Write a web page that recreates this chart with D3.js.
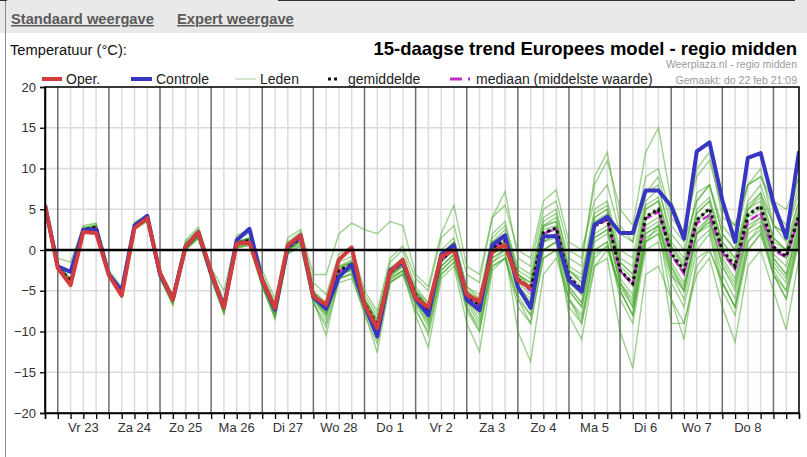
<!DOCTYPE html>
<html>
<head>
<meta charset="utf-8">
<script src="https://cdn.jsdelivr.net/npm/d3@7"></script>
<style>
  body { margin: 0; background: #fff; }
  text { font-family: Arial, "Liberation Sans", sans-serif; }
</style>
</head>
<body>
<div id="chart"></div>
<script>
// 6-hourly points, first one at do 22 feb 18:00 (2018, no leap day)
const startTime = new Date(2018, 1, 22, 18);
const endTime = new Date(2018, 2, 9, 12);

const dayLabels = ["Vr 23", "Za 24", "Zo 25", "Ma 26", "Di 27", "Wo 28", "Do 1",
                   "Vr 2", "Za 3", "Zo 4", "Ma 5", "Di 6", "Wo 7", "Do 8"];
const yTicks = [-20, -15, -10, -5, 0, 5, 10, 15, 20];

const oper = [5.5, -2.2,-4.3,2.2,2.1, -3.1,-5.6,2.7,3.9, -2.8,-6.1,0.4,2.2, -2.7,-7.1,0.8,0.9,
  -3.7,-7.1,0.6,1.8, -5.7,-6.7,-1.2,0.3, -6.7,-9.6,-2.7,-1.2, -5.9,-7,-0.8,0,
  -5.5,-6.3,-0.2,0.6, -3.7,-4.7];

const controle = [5.5, -2,-2.7,2.5,2.5, -3,-5,3,4.2, -3,-6,0.4,2.2, -2.8,-7,1.2,2.6,
  -3.7,-7.3,0.4,1.8, -5.8,-7.2,-3.3,-1.8, -6.7,-10.6,-2.5,-1.5, -6,-8,-0.6,0.6,
  -6.1,-7.4,0.6,1.8, -4.5,-7.1,1.7,1.7, -3.7,-5.1,3.1,4.1, 2.1,2.1,7.3,7.3,
  5.4,1.4,12.1,13.2, 6.1,1,11.3,11.9, 5.8,1.5,12.1];

const gemiddelde = [5.5, -2,-3.8,2.5,2.8, -3,-5.2,3,4, -3,-6,0.5,2, -3,-7,0.8,1.2,
  -3.8,-7.3,0.3,1.5, -5.5,-7,-2.5,-1.8, -6.5,-9.2,-2.8,-1.5, -5.5,-7.4,-1.2,0.2,
  -5.5,-6.8,0.2,1.2, -3.5,-4.8,2.1,2.7, -3.3,-4.9,3,3.8, -2.5,-4.1,4.1,5,
  -0.4,-2.5,3.7,5.1, 0,-2,4.3,5.4, 0.4,-0.8,4.3];

const mediaan = [5.5, -2.1,-3.9,2.4,2.7, -3,-5.3,3,3.9, -3,-6,0.5,1.9, -3,-7,0.8,1.2,
  -3.8,-7.3,0.3,1.4, -5.6,-7.1,-2.6,-1.9, -6.6,-9.3,-2.9,-1.5, -5.6,-7.5,-1.3,0.2,
  -5.6,-7,0.2,1.2, -3.6,-5,2,2.6, -3.4,-5,2.9,3.7, -2.6,-4.2,3.8,4.7,
  -0.6,-2.9,3.3,4.3, -0.3,-2.3,3.5,4.5, 0,-0.9,4];

// ensemble members (Leden), read off roughly
const leden = [
  [5.6, -1.8,-3.5,2.8,3.2, -2.8,-5,3.4,4.3, -2.6,-5.6,1,2.5, -2.5,-6.2,1.5,2, -3,-6.5,1,2.2, -4,-5.5,-0.5,0.5, -5,-7.5,-1,0.5, -3.5,-5,1.5,3, -3,-4,4,7.2, -1,-2,5,6, 0,-1,8,11, 5,3,12,15, 6,2,9,11, 5,3,8,9, 6,5,9],
  [5.4, -1,-1.5,3,3.3, -2.5,-4.5,3.3,4.2, -2.5,-5.5,1.2,2.8, -2.2,-5,1.8,2.5, -2.5,-6,1.5,2.5, -3,-3,2,3.3, 2.5,2,3.5,3, -3,-4.5,2,5.5, -2,-3,4,5.5, 0,-1,6,7.4, 1,0,6,8, 2,1,7,9, 3,1,6,8, 2,0,5,7, 3,2,7],
  [5.5, -2.3,-4.3,2.2,2.4, -3.3,-5.8,2.6,3.6, -3.5,-6.8,0,1.5, -3.6,-7.8,0.3,0.6, -4.5,-8.5,-0.5,0.5, -6.5,-9,-3.5,-3, -8,-11.5,-4,-3, -7.5,-10,-3,-1.5, -7.5,-10,-2,-1, -7,-9,-1,0, -7,-9,-2,-1, -10,-14.5,-3,-2, -6,-9,-2,0, -4,-7,1,3, -3,-5,2],
  [5.4, -2.1,-4,2.3,2.6, -3.1,-5.5,2.8,3.8, -3.2,-6.4,0.2,1.7, -3.3,-7.5,0.5,0.9, -4.2,-8,0,1.2, -6,-8.5,-3,-2.5, -7.5,-12.6,-4,-3, -6.5,-9,-2.5,-1, -7,-9.5,-1.5,0, -10,-13.7,-3,-1, -6,-9,0,1, -5,-8,1,2, -4,-7,0,2, -5,-8,0,2, -3,-6,1],
  [5.5, -2.2,-4.2,2.1,2.3, -3.2,-5.7,2.5,3.5, -3.4,-6.6,0,1.4, -3.4,-7.7,0.2,0.6, -4.4,-8.2,-0.3,0.8, -6.2,-10.5,-3.5,-3, -7,-10,-3.5,-2.5, -8,-12,-3.5,-2, -9,-12.5,-2.5,-1, -6,-8,0,1, -5,-7,1,2, -4,-7,2,3, -2,-5,2,3, -3,-6,2,3, -2,-4,2],
  [5.6, -1.9,-3.7,2.6,3, -2.9,-5.1,3.1,4.1, -3,-6.1,0.4,1.9, -3.1,-7.1,0.7,1.1, -4,-7.5,0,1.2, -5.5,-7.5,-2.5,-2, -6.5,-9.5,-3,-2, -5.5,-8,-1.5,0, -6,-7.5,0,1, -4.5,-6,1,2, -5,-7,0,1, -6,-9,0,1, -9,-9,-3,-1, -7,-11.3,-2,0, -5,-9.8,-1],
  [5.5, -1.9,-2.5,2.7,3, -2.8,-5,3.2,4.2, -2.8,-5.8,0.8,2.3, -2.8,-6.6,1,1.5, -3.5,-7,0.6,1.8, -5,-6.5,-1.5,-0.8, -5.5,-8,-1.5,0, -4.5,-6.5,0,1.5, -4.5,-5.5,1.5,3, -2,-3,4,5, -2,-3,5,6, 0,-1,7,8, 1,-1,7,8, 2,0,6,8, 3,1,6],
  [5.5, -2,-3.8,2.5,2.7, -3,-5.3,3,3.9, -3,-6,0.5,2, -3,-7,0.9,1.3, -3.8,-7.4,0.3,1.4, -5.6,-7.2,-2.7,-2, -6.6,-9.3,-3,-1.7, -5.6,-7.5,-1.3,0, -5.4,-7,0,1, -3.6,-5,2,2.5, -3.5,-5,3,4, -2.5,-4.5,4,5, -0.5,-3,3.5,5, -0.5,-2.5,4,5, 0,-1,4],
  [5.4, -2.1,-3.9,2.4,2.9, -3.1,-5.4,2.9,3.8, -3.1,-6.2,0.3,1.8, -3.2,-7.3,0.6,1, -4,-7.6,0,1.2, -5.8,-7.8,-3,-2.3, -6.8,-10,-3.2,-2, -6,-8.5,-2,-0.5, -6,-8,-0.5,0.5, -4.5,-6.5,1,2, -4.5,-6.5,1.5,2.5, -4,-6,2.5,3.5, -2,-4.5,2,3.5, -1.5,-4,3,4, -1,-3,3],
  [5.6, -1.8,-3.6,2.6,3, -2.8,-5,3.1,4.1, -2.9,-5.9,0.7,2.2, -2.9,-6.8,1,1.5, -3.6,-7.1,0.5,1.7, -5.2,-6.5,-2,-1.2, -6,-8.5,-2.2,-1, -5,-6.5,-0.5,1, -5,-6,1,2, -3,-4,3,3.5, -2.5,-4,4,5, -1.5,-3,5,6, 0.5,-2,4.5,6, 1,-1,5,6.5, 1.5,0,5],
  [5.5, -2.1,-4.1,2.3,2.5, -3.1,-5.5,2.8,3.8, -3.2,-6.3,0.2,1.6, -3.2,-7.4,0.5,0.8, -4,-7.8,0,1, -5.8,-7.5,-3,-2.5, -7,-9.8,-3.5,-2.5, -6,-8,-2,-0.5, -5.5,-7.5,-1,0, -4,-5.5,1.5,2, -4,-5.5,2,3, -3.5,-5.5,3,4, -1.5,-4,2.5,4, -1,-3.5,3.5,4.5, -0.5,-2,3.5],
  [5.5, -1.9,-3.7,2.5,2.9, -2.9,-5.1,3,4, -2.9,-5.9,0.6,2.1, -2.9,-6.8,0.9,1.4, -3.7,-7.2,0.4,1.6, -5.3,-6.8,-2,-1.5, -6,-8.5,-2.5,-1, -5,-7,-1,0.5, -5,-6.5,1,2.5, -2.5,-3.5,3.5,4.5, -1,-2,9,12, 3,1,9,10, 4,2,10,12, 4,3,8,9, 5,3,9],
  [5.4, -2.2,-4,2.4,2.6, -3.2,-5.6,2.7,3.7, -3.3,-6.5,0.1,1.6, -3.3,-7.6,0.4,0.8, -4.2,-8,-0.2,1, -6,-8,-3.5,-2.8, -7.2,-10.5,-3.8,-2.5, -6.5,-9.5,-2.5,-1, -6.5,-9,-1.5,-0.5, -5.5,-8,0,1, -6,-8,-0.5,0.5, -5,-8,1,2, -3,-6,1,2.5, -4,-7,1,2.5, -2.5,-5,1.5],
  [5.5, -2,-3.8,2.6,2.9, -3,-5.2,3.1,4, -3,-6,0.5,2, -3,-6.9,1,1.4, -3.8,-7.2,0.4,1.5, -5.4,-7,-2.2,-1.5, -6.3,-9,-2.5,-1.2, -5.2,-7,-0.8,0.5, -5.2,-6.5,0.5,1.5, -3,-4.5,2.5,3, -3,-4.5,3.5,4.5, -2,-3.5,5,6, 0,-2,4.5,6, 0.5,-1.5,5,6, 1,0,5],
  [5.5, -2.1,-3.9,2.4,2.7, -3,-5.3,2.9,3.9, -3.1,-6.1,0.4,1.9, -3.1,-7.2,0.7,1.1, -3.9,-7.5,0.2,1.3, -5.7,-7.6,-2.8,-2, -6.8,-9.8,-3,-1.8, -6,-8,-1.5,0, -6,-7.5,-0.5,0.5, -5,-7,0,1, -8,-11,-2,0, -5,-8,1,3, -3,-5,2,4, -2,-5,2.5,4, -1,-3,3],
  [5.5, -1.9,-3.7,2.6,2.8, -2.9,-5.1,3.1,4.1, -2.9,-5.9,0.6,2.1, -2.9,-6.9,0.9,1.3, -3.7,-7.2,0.4,1.6, -5.4,-6.9,-2.3,-1.5, -6.3,-9,-2.5,-1, -5,-7,-0.5,1, -4.5,-6,2,3.5, -3,-4,3,4, -2.5,-3.5,4.5,5.5, -1,-2,6,7.5, 2,0,6,8, 3,1,8,10, 3,2,8],
  [5.4, -2.2,-4.1,2.3,2.5, -3.2,-5.6,2.7,3.6, -3.3,-6.6,0.1,1.5, -3.4,-7.8,0.3,0.6, -4.5,-8.3,-0.5,0.6, -6.5,-9.5,-4,-3.5, -7.5,-11,-4,-2.8, -7,-10.5,-3,-1.5, -7,-10,-2,-1, -6,-9,-1,0, -6,-8.5,-1,0.5, -4.5,-7,1.5,2.5, -6,-11,-1,0, -4,-7,0,2, -3,-6,1.5],
  [5.5, -2,-3.7,2.5,2.8, -3,-5.1,3,4, -3,-5.9,0.6,2, -3,-6.9,0.9,1.3, -3.7,-7.2,0.4,1.6, -5.3,-6.8,-2.2,-1.5, -6.2,-8.8,-2.5,-1.2, -5.2,-7,-0.8,0.6, -5,-6.5,0.8,1.8, -3,-4.5,2.8,3.5, -2.5,-4,4,5, -1.5,-3,5.5,6.5, 0.5,-1.5,5,6.5, 1,-1,5.5,7, 1.5,0,6],
  [5.5, -2.1,-4,2.4,2.6, -3.1,-5.5,2.8,3.8, -3.2,-6.3,0.3,1.7, -3.2,-7.3,0.6,1, -4,-7.7,0.1,1.2, -5.9,-8,-3,-2.3, -6.9,-10,-3.3,-2, -6.2,-8.8,-2,-0.6, -6.2,-8.5,-1,0.2, -4.5,-6.5,1,1.5, -4.5,-6.5,1.5,2.5, -4,-6.5,2,3, -2.5,-5,2,3.5, -2,-4.5,2.5,3.5, -1.5,-3.5,2.5],
  [5.5, -2,-3.9,2.5,2.8, -3,-5.2,3,4, -3,-6,0.5,2, -3,-7,0.8,1.2, -3.8,-7.3,0.3,1.5, -5.5,-7,-2.5,-1.8, -6.5,-9.2,-2.8,-1.5, -5.5,-7.5,-1.2,0.2, -5.5,-7,0.2,1.2, -3.5,-5,2,2.8, -3.5,-5,3,4, -2.5,-4,4,5, -0.5,-2.5,3.8,5, 0,-2,4.3,5.5, 0.5,-1,4.5]
];

const width = 807;
const height = 457;
const margin = {top: 87, right: 8, bottom: 44, left: 45};

const svg = d3.select("#chart").append("svg")
    .attr("width", width)
    .attr("height", height);

// page header
svg.append("rect").attr("x", 0).attr("y", 0).attr("width", width).attr("height", 33).attr("fill", "#e9e9e9");
svg.append("line").attr("x1", 5.5).attr("x2", 5.5).attr("y1", 0).attr("y2", height).attr("stroke", "#8a8a8a");
svg.append("line").attr("x1", 278).attr("x2", 795).attr("y1", 0.5).attr("y2", 0.5).attr("stroke", "#333");
svg.append("line").attr("x1", 0).attr("x2", 7).attr("y1", 0.5).attr("y2", 0.5).attr("stroke", "#333");

const tabs = [{t: "Standaard weergave", x: 11}, {t: "Expert weergave", x: 177}];
svg.selectAll(".tab").data(tabs).join("text")
    .attr("x", d => d.x).attr("y", 24)
    .attr("font-size", 14.7).attr("font-weight", "bold").attr("fill", "#5a5a5a")
    .attr("text-decoration", "underline")
    .text(d => d.t);

svg.append("text").attr("x", 10).attr("y", 55).attr("font-size", 14.7).attr("fill", "#111")
    .text("Temperatuur (°C):");
svg.append("text").attr("x", 797).attr("y", 55).attr("text-anchor", "end")
    .attr("font-size", 18.5).attr("font-weight", "bold").attr("fill", "#000")
    .text("15-daagse trend Europees model - regio midden");
svg.append("text").attr("x", 797).attr("y", 68).attr("text-anchor", "end")
    .attr("font-size", 10.5).attr("fill", "#9a9a9a").text("Weerplaza.nl - regio midden");
svg.append("text").attr("x", 797).attr("y", 84).attr("text-anchor", "end")
    .attr("font-size", 10.5).attr("fill", "#9a9a9a").text("Gemaakt: do 22 feb 21:09");

// scales
const x = d3.scaleTime().domain([startTime, endTime]).range([margin.left, width - margin.right]);
const y = d3.scaleLinear().domain([-20, 20]).range([height - margin.bottom, margin.top]);

const times = d3.range(controle.length).map(i => d3.timeHour.offset(startTime, i * 6));

// grid
const grid = svg.append("g");
const sixHours = d3.timeHour.every(6).range(startTime, d3.timeHour.offset(endTime, 1));
grid.selectAll(".minor").data(sixHours.filter(t => t.getHours() !== 0)).join("line")
    .attr("x1", d => x(d)).attr("x2", d => x(d))
    .attr("y1", y(20)).attr("y2", y(-20))
    .attr("stroke", "#dcdcdc").attr("stroke-width", 1.5);
grid.selectAll(".hgrid").data(yTicks).join("line")
    .attr("x1", x.range()[0]).attr("x2", x.range()[1])
    .attr("y1", d => y(d)).attr("y2", d => y(d))
    .attr("stroke", "#dcdcdc").attr("stroke-width", 1.5);
grid.selectAll(".major").data(d3.timeDay.range(startTime, endTime)).join("line")
    .attr("x1", d => x(d)).attr("x2", d => x(d))
    .attr("y1", y(20)).attr("y2", y(-20))
    .attr("stroke", "#6e6e6e").attr("stroke-width", 1.5);

svg.append("clipPath").attr("id", "plot").append("rect")
    .attr("x", x.range()[0]).attr("y", y(20))
    .attr("width", x.range()[1] - x.range()[0]).attr("height", y(-20) - y(20));

const line = d3.line().x((d, i) => x(times[i])).y(d => y(d));
const lines = svg.append("g").attr("clip-path", "url(#plot)");

lines.selectAll(".lid").data(leden).join("path")
    .attr("d", line).attr("fill", "none")
    .attr("stroke", "#42a624").attr("stroke-opacity", 0.5).attr("stroke-width", 1.4);

lines.append("path").attr("d", line(mediaan)).attr("fill", "none")
    .attr("stroke", "#c42ccc").attr("stroke-width", 2.5).attr("stroke-dasharray", "8,3");
lines.append("path").attr("d", line(gemiddelde)).attr("fill", "none")
    .attr("stroke", "#111").attr("stroke-width", 3).attr("stroke-dasharray", "3,3");
lines.append("path").attr("d", line(controle)).attr("fill", "none")
    .attr("stroke", "#3636c0").attr("stroke-width", 4).attr("stroke-linejoin", "round");
lines.append("path").attr("d", line(oper)).attr("fill", "none")
    .attr("stroke", "#d23c3c").attr("stroke-width", 4).attr("stroke-linejoin", "round");

// zero line
svg.append("line").attr("x1", x.range()[0]).attr("x2", x.range()[1])
    .attr("y1", y(0)).attr("y2", y(0)).attr("stroke", "#000").attr("stroke-width", 2.5);

// frame
svg.append("rect").attr("x", x.range()[0]).attr("y", y(20))
    .attr("width", x.range()[1] - x.range()[0]).attr("height", y(-20) - y(20))
    .attr("fill", "none").attr("stroke", "#000").attr("stroke-width", 1.5);

// axes
const yAxis = svg.append("g").attr("transform", `translate(${x.range()[0]},0)`)
    .call(d3.axisLeft(y).tickValues(yTicks).tickSize(5).tickPadding(4));
const xAxis = svg.append("g").attr("transform", `translate(0,${y(-20)})`)
    .call(d3.axisBottom(x).tickValues(sixHours).tickSize(6).tickFormat(""));
[yAxis, xAxis].forEach(a => {
  a.select(".domain").attr("stroke", "#000").attr("stroke-width", 1.5);
  a.selectAll(".tick line").attr("stroke", "#000").attr("stroke-width", 1.3);
  a.selectAll("text").attr("font-size", 13).attr("fill", "#333")
      .attr("font-family", "Arial, 'Liberation Sans', sans-serif");
});

const noons = d3.timeDay.range(d3.timeDay.ceil(startTime), endTime).map(d => d3.timeHour.offset(d, 12));
svg.selectAll(".daylabel").data(dayLabels).join("text")
    .attr("x", (d, i) => x(noons[i])).attr("y", 432)
    .attr("text-anchor", "middle").attr("font-size", 13).attr("fill", "#333")
    .text(d => d);

// legend
const legend = [
  {t: "Oper.", x: 42, color: "#d23c3c", w: 4, dash: null, len: 20},
  {t: "Controle", x: 131, color: "#3636c0", w: 4, dash: null, len: 21},
  {t: "Leden", x: 235, color: "#c6e0bc", w: 1.5, dash: null, len: 21},
  {t: "gemiddelde", x: 328, color: "#111", w: 3, dash: "3,3", len: 12},
  {t: "mediaan (middelste waarde)", x: 450, color: "#c42ccc", w: 3, dash: "12,6,2", len: 22}
];
const lg = svg.selectAll(".lg").data(legend).join("g");
lg.append("line")
    .attr("x1", d => d.x).attr("x2", d => d.x + d.len)
    .attr("y1", 79).attr("y2", 79)
    .attr("stroke", d => d.color).attr("stroke-width", d => d.w)
    .attr("stroke-dasharray", d => d.dash);
lg.append("text")
    .attr("x", d => d.x + d.len + (d.dash === "3,3" ? 8 : 4)).attr("y", 84)
    .attr("font-size", 14).attr("fill", "#222")
    .text(d => d.t);
</script>
</body>
</html>
